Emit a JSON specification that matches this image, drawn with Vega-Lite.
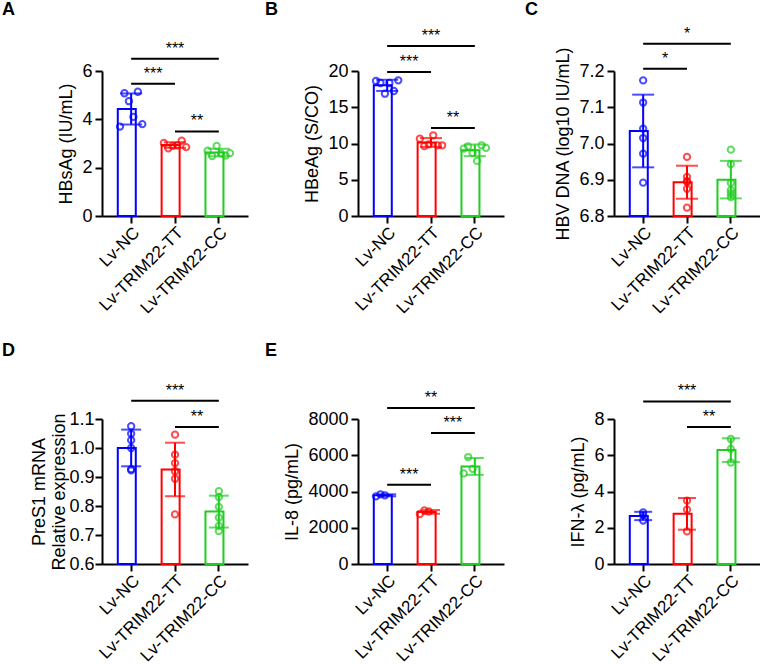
{
"$schema":"https://vega.github.io/schema/vega-lite/v6.json",
"padding":{"left":2,"top":0,"right":0,"bottom":0},
"datasets":{
"pts":[
{"panel":"A","group":"Lv-NC","rep":1,"value":3.70},{"panel":"A","group":"Lv-NC","rep":2,"value":5.08},{"panel":"A","group":"Lv-NC","rep":3,"value":4.75},{"panel":"A","group":"Lv-NC","rep":4,"value":4.10},{"panel":"A","group":"Lv-NC","rep":5,"value":5.14},{"panel":"A","group":"Lv-NC","rep":6,"value":3.80},
{"panel":"A","group":"Lv-TRIM22-TT","rep":1,"value":3.02},{"panel":"A","group":"Lv-TRIM22-TT","rep":2,"value":2.80},{"panel":"A","group":"Lv-TRIM22-TT","rep":3,"value":2.90},{"panel":"A","group":"Lv-TRIM22-TT","rep":4,"value":2.92},{"panel":"A","group":"Lv-TRIM22-TT","rep":5,"value":3.12},{"panel":"A","group":"Lv-TRIM22-TT","rep":6,"value":2.85},
{"panel":"A","group":"Lv-TRIM22-CC","rep":1,"value":2.70},{"panel":"A","group":"Lv-TRIM22-CC","rep":2,"value":2.48},{"panel":"A","group":"Lv-TRIM22-CC","rep":3,"value":2.90},{"panel":"A","group":"Lv-TRIM22-CC","rep":4,"value":2.58},{"panel":"A","group":"Lv-TRIM22-CC","rep":5,"value":2.50},{"panel":"A","group":"Lv-TRIM22-CC","rep":6,"value":2.60},
{"panel":"B","group":"Lv-NC","rep":1,"value":18.62},{"panel":"B","group":"Lv-NC","rep":2,"value":18.34},{"panel":"B","group":"Lv-NC","rep":3,"value":16.87},{"panel":"B","group":"Lv-NC","rep":4,"value":18.34},{"panel":"B","group":"Lv-NC","rep":5,"value":17.24},{"panel":"B","group":"Lv-NC","rep":6,"value":18.71},
{"panel":"B","group":"Lv-TRIM22-TT","rep":1,"value":10.66},{"panel":"B","group":"Lv-TRIM22-TT","rep":2,"value":9.66},{"panel":"B","group":"Lv-TRIM22-TT","rep":3,"value":9.89},{"panel":"B","group":"Lv-TRIM22-TT","rep":4,"value":11.13},{"panel":"B","group":"Lv-TRIM22-TT","rep":5,"value":9.75},{"panel":"B","group":"Lv-TRIM22-TT","rep":6,"value":9.75},
{"panel":"B","group":"Lv-TRIM22-CC","rep":1,"value":9.3},{"panel":"B","group":"Lv-TRIM22-CC","rep":2,"value":9.6},{"panel":"B","group":"Lv-TRIM22-CC","rep":3,"value":8.7},{"panel":"B","group":"Lv-TRIM22-CC","rep":4,"value":7.6},{"panel":"B","group":"Lv-TRIM22-CC","rep":5,"value":9.75},{"panel":"B","group":"Lv-TRIM22-CC","rep":6,"value":9.4},
{"panel":"C","group":"Lv-NC","rep":1,"value":7.174},{"panel":"C","group":"Lv-NC","rep":2,"value":7.113},{"panel":"C","group":"Lv-NC","rep":3,"value":7.041},{"panel":"C","group":"Lv-NC","rep":4,"value":7.015},{"panel":"C","group":"Lv-NC","rep":5,"value":6.972},{"panel":"C","group":"Lv-NC","rep":6,"value":6.892},
{"panel":"C","group":"Lv-TRIM22-TT","rep":1,"value":6.963},{"panel":"C","group":"Lv-TRIM22-TT","rep":2,"value":6.894},{"panel":"C","group":"Lv-TRIM22-TT","rep":3,"value":6.908},{"panel":"C","group":"Lv-TRIM22-TT","rep":4,"value":6.896},{"panel":"C","group":"Lv-TRIM22-TT","rep":5,"value":6.875},{"panel":"C","group":"Lv-TRIM22-TT","rep":6,"value":6.823},
{"panel":"C","group":"Lv-TRIM22-CC","rep":1,"value":6.983},{"panel":"C","group":"Lv-TRIM22-CC","rep":2,"value":6.943},{"panel":"C","group":"Lv-TRIM22-CC","rep":3,"value":6.891},{"panel":"C","group":"Lv-TRIM22-CC","rep":4,"value":6.852},{"panel":"C","group":"Lv-TRIM22-CC","rep":5,"value":6.871},{"panel":"C","group":"Lv-TRIM22-CC","rep":6,"value":6.862},
{"panel":"D","group":"Lv-NC","rep":1,"value":1.075},{"panel":"D","group":"Lv-NC","rep":2,"value":1.049},{"panel":"D","group":"Lv-NC","rep":3,"value":1.027},{"panel":"D","group":"Lv-NC","rep":4,"value":1.0},{"panel":"D","group":"Lv-NC","rep":5,"value":0.923},{"panel":"D","group":"Lv-NC","rep":6,"value":0.927},
{"panel":"D","group":"Lv-TRIM22-TT","rep":1,"value":1.046},{"panel":"D","group":"Lv-TRIM22-TT","rep":2,"value":0.977},{"panel":"D","group":"Lv-TRIM22-TT","rep":3,"value":0.948},{"panel":"D","group":"Lv-TRIM22-TT","rep":4,"value":0.920},{"panel":"D","group":"Lv-TRIM22-TT","rep":5,"value":0.894},{"panel":"D","group":"Lv-TRIM22-TT","rep":6,"value":0.771},
{"panel":"D","group":"Lv-TRIM22-CC","rep":1,"value":0.851},{"panel":"D","group":"Lv-TRIM22-CC","rep":2,"value":0.831},{"panel":"D","group":"Lv-TRIM22-CC","rep":3,"value":0.797},{"panel":"D","group":"Lv-TRIM22-CC","rep":4,"value":0.760},{"panel":"D","group":"Lv-TRIM22-CC","rep":5,"value":0.714},{"panel":"D","group":"Lv-TRIM22-CC","rep":6,"value":0.731},
{"panel":"E","group":"Lv-NC","rep":1,"value":3734},{"panel":"E","group":"Lv-NC","rep":2,"value":3845},{"panel":"E","group":"Lv-NC","rep":3,"value":3790},
{"panel":"E","group":"Lv-TRIM22-TT","rep":1,"value":2760},{"panel":"E","group":"Lv-TRIM22-TT","rep":2,"value":2960},{"panel":"E","group":"Lv-TRIM22-TT","rep":3,"value":2900},
{"panel":"E","group":"Lv-TRIM22-CC","rep":1,"value":5000},{"panel":"E","group":"Lv-TRIM22-CC","rep":2,"value":5900},{"panel":"E","group":"Lv-TRIM22-CC","rep":3,"value":5250},
{"panel":"F","group":"Lv-NC","rep":1,"value":2.85},{"panel":"F","group":"Lv-NC","rep":2,"value":2.70},{"panel":"F","group":"Lv-NC","rep":3,"value":2.40},
{"panel":"F","group":"Lv-TRIM22-TT","rep":1,"value":3.50},{"panel":"F","group":"Lv-TRIM22-TT","rep":2,"value":3.00},{"panel":"F","group":"Lv-TRIM22-TT","rep":3,"value":1.80},
{"panel":"F","group":"Lv-TRIM22-CC","rep":1,"value":6.90},{"panel":"F","group":"Lv-TRIM22-CC","rep":2,"value":6.35},{"panel":"F","group":"Lv-TRIM22-CC","rep":3,"value":5.60}
],
"ann":[
{"panel":"A","from":"Lv-NC","to":"Lv-TRIM22-TT","y":5.47,"label":"***"},
{"panel":"A","from":"Lv-NC","to":"Lv-TRIM22-CC","y":6.51,"label":"***"},
{"panel":"A","from":"Lv-TRIM22-TT","to":"Lv-TRIM22-CC","y":3.50,"label":"**"},
{"panel":"B","from":"Lv-NC","to":"Lv-TRIM22-TT","y":19.86,"label":"***"},
{"panel":"B","from":"Lv-NC","to":"Lv-TRIM22-CC","y":23.45,"label":"***"},
{"panel":"B","from":"Lv-TRIM22-TT","to":"Lv-TRIM22-CC","y":12.15,"label":"**"},
{"panel":"C","from":"Lv-NC","to":"Lv-TRIM22-TT","y":7.206,"label":"*"},
{"panel":"C","from":"Lv-NC","to":"Lv-TRIM22-CC","y":7.275,"label":"*"},
{"panel":"D","from":"Lv-NC","to":"Lv-TRIM22-CC","y":1.163,"label":"***"},
{"panel":"D","from":"Lv-TRIM22-TT","to":"Lv-TRIM22-CC","y":1.072,"label":"**"},
{"panel":"E","from":"Lv-NC","to":"Lv-TRIM22-TT","y":4377,"label":"***"},
{"panel":"E","from":"Lv-TRIM22-TT","to":"Lv-TRIM22-CC","y":7228,"label":"***"},
{"panel":"E","from":"Lv-NC","to":"Lv-TRIM22-CC","y":8607,"label":"**"},
{"panel":"F","from":"Lv-NC","to":"Lv-TRIM22-CC","y":8.97,"label":"***"},
{"panel":"F","from":"Lv-TRIM22-TT","to":"Lv-TRIM22-CC","y":7.56,"label":"**"}
]
},
"columns":3,
"bounds":"flush",
"spacing":{"row":203,"column":110},
"concat":[
{"width":146,"height":145,"title":{"text":"A","dx":-100,"offset":22},
"layer":[
{"data":{"name":"pts"},"transform":[{"filter":"datum.panel=='A'"}],"mark":{"type":"bar","fill":"white","strokeWidth":2},
"encoding":{"x":{"field":"group","type":"nominal","title":null,"scale":{"domain":["Lv-NC","Lv-TRIM22-TT","Lv-TRIM22-CC"],"paddingInner":0.39,"paddingOuter":0.36}},
"y":{"aggregate":"mean","field":"value","type":"quantitative","title":"HBsAg (IU/mL)","scale":{"domain":[0,6],"nice":false},"axis":{"values":[0,2,4,6]}},
"stroke":{"field":"group","type":"nominal","scale":{"domain":["Lv-NC","Lv-TRIM22-TT","Lv-TRIM22-CC"],"range":["#0000ff","#ff0000","#1fcc1f"]},"legend":null}}},
{"data":{"name":"pts"},"transform":[{"filter":"datum.panel=='A'"}],"mark":{"type":"errorbar","extent":"stdev","thickness":2,"ticks":{"size":22,"thickness":2}},
"encoding":{"x":{"field":"group","type":"nominal","title":null,"scale":{"domain":["Lv-NC","Lv-TRIM22-TT","Lv-TRIM22-CC"]}},
"y":{"field":"value","type":"quantitative","title":"HBsAg (IU/mL)","scale":{"domain":[0,6],"nice":false},"axis":{"values":[0,2,4,6]}},
"color":{"field":"group","type":"nominal","scale":{"domain":["Lv-NC","Lv-TRIM22-TT","Lv-TRIM22-CC"],"range":["#0000ff","#ff0000","#1fcc1f"]},"legend":null}}},
{"data":{"name":"pts"},"transform":[{"filter":"datum.panel=='A'"}],"mark":{"type":"point","filled":false,"size":40,"strokeWidth":2},
"encoding":{"x":{"field":"group","type":"nominal","title":null,"scale":{"domain":["Lv-NC","Lv-TRIM22-TT","Lv-TRIM22-CC"]}},"xOffset":{"field":"rep","type":"nominal"},
"y":{"field":"value","type":"quantitative","title":"HBsAg (IU/mL)","scale":{"domain":[0,6],"nice":false},"axis":{"values":[0,2,4,6]}},
"stroke":{"field":"group","type":"nominal","scale":{"domain":["Lv-NC","Lv-TRIM22-TT","Lv-TRIM22-CC"],"range":["#0000ff","#ff0000","#1fcc1f"]},"legend":null}}},
{"data":{"name":"ann"},"transform":[{"filter":"datum.panel=='A'"}],"mark":{"type":"rule","strokeWidth":2,"color":"black"},
"encoding":{"x":{"field":"from","type":"nominal","title":null,"scale":{"domain":["Lv-NC","Lv-TRIM22-TT","Lv-TRIM22-CC"]}},"x2":{"field":"to"},
"y":{"field":"y","type":"quantitative","title":"HBsAg (IU/mL)","scale":{"domain":[0,6],"nice":false},"axis":{"values":[0,2,4,6]}}}},
{"data":{"name":"ann"},"transform":[{"filter":"datum.panel=='A' && datum.from=='Lv-NC' && datum.to=='Lv-TRIM22-CC'"}],"mark":{"type":"text","fontSize":16,"dy":-5,"baseline":"alphabetic","color":"black"},
"encoding":{"x":{"datum":"Lv-TRIM22-TT","type":"nominal","title":null,"scale":{"domain":["Lv-NC","Lv-TRIM22-TT","Lv-TRIM22-CC"]}},
"y":{"field":"y","type":"quantitative","title":"HBsAg (IU/mL)","scale":{"domain":[0,6],"nice":false},"axis":{"values":[0,2,4,6]}},"text":{"field":"label"}}},
{"data":{"name":"ann"},"transform":[{"filter":"datum.panel=='A' && !(datum.from=='Lv-NC' && datum.to=='Lv-TRIM22-CC')"}],"mark":{"type":"text","fontSize":16,"dy":-5,"baseline":"alphabetic","color":"black"},
"encoding":{"x":{"field":"from","type":"nominal","title":null,"bandPosition":1.32,"scale":{"domain":["Lv-NC","Lv-TRIM22-TT","Lv-TRIM22-CC"]}},
"y":{"field":"y","type":"quantitative","title":"HBsAg (IU/mL)","scale":{"domain":[0,6],"nice":false},"axis":{"values":[0,2,4,6]}},"text":{"field":"label"}}}
]},
{"width":146,"height":145,"title":{"text":"B","dx":-93,"offset":9},
"layer":[
{"data":{"name":"pts"},"transform":[{"filter":"datum.panel=='B'"}],"mark":{"type":"bar","fill":"white","strokeWidth":2},
"encoding":{"x":{"field":"group","type":"nominal","title":null,"scale":{"domain":["Lv-NC","Lv-TRIM22-TT","Lv-TRIM22-CC"],"paddingInner":0.39,"paddingOuter":0.36}},
"y":{"aggregate":"mean","field":"value","type":"quantitative","title":"HBeAg (S/CO)","scale":{"domain":[0,20],"nice":false},"axis":{"values":[0,5,10,15,20]}},
"stroke":{"field":"group","type":"nominal","scale":{"domain":["Lv-NC","Lv-TRIM22-TT","Lv-TRIM22-CC"],"range":["#0000ff","#ff0000","#1fcc1f"]},"legend":null}}},
{"data":{"name":"pts"},"transform":[{"filter":"datum.panel=='B'"}],"mark":{"type":"errorbar","extent":"stdev","thickness":2,"ticks":{"size":22,"thickness":2}},
"encoding":{"x":{"field":"group","type":"nominal","title":null,"scale":{"domain":["Lv-NC","Lv-TRIM22-TT","Lv-TRIM22-CC"]}},
"y":{"field":"value","type":"quantitative","title":"HBeAg (S/CO)","scale":{"domain":[0,20],"nice":false},"axis":{"values":[0,5,10,15,20]}},
"color":{"field":"group","type":"nominal","scale":{"domain":["Lv-NC","Lv-TRIM22-TT","Lv-TRIM22-CC"],"range":["#0000ff","#ff0000","#1fcc1f"]},"legend":null}}},
{"data":{"name":"pts"},"transform":[{"filter":"datum.panel=='B'"}],"mark":{"type":"point","filled":false,"size":40,"strokeWidth":2},
"encoding":{"x":{"field":"group","type":"nominal","title":null,"scale":{"domain":["Lv-NC","Lv-TRIM22-TT","Lv-TRIM22-CC"]}},"xOffset":{"field":"rep","type":"nominal"},
"y":{"field":"value","type":"quantitative","title":"HBeAg (S/CO)","scale":{"domain":[0,20],"nice":false},"axis":{"values":[0,5,10,15,20]}},
"stroke":{"field":"group","type":"nominal","scale":{"domain":["Lv-NC","Lv-TRIM22-TT","Lv-TRIM22-CC"],"range":["#0000ff","#ff0000","#1fcc1f"]},"legend":null}}},
{"data":{"name":"ann"},"transform":[{"filter":"datum.panel=='B'"}],"mark":{"type":"rule","strokeWidth":2,"color":"black"},
"encoding":{"x":{"field":"from","type":"nominal","title":null,"scale":{"domain":["Lv-NC","Lv-TRIM22-TT","Lv-TRIM22-CC"]}},"x2":{"field":"to"},
"y":{"field":"y","type":"quantitative","title":"HBeAg (S/CO)","scale":{"domain":[0,20],"nice":false},"axis":{"values":[0,5,10,15,20]}}}},
{"data":{"name":"ann"},"transform":[{"filter":"datum.panel=='B' && datum.from=='Lv-NC' && datum.to=='Lv-TRIM22-CC'"}],"mark":{"type":"text","fontSize":16,"dy":-5,"baseline":"alphabetic","color":"black"},
"encoding":{"x":{"datum":"Lv-TRIM22-TT","type":"nominal","title":null,"scale":{"domain":["Lv-NC","Lv-TRIM22-TT","Lv-TRIM22-CC"]}},
"y":{"field":"y","type":"quantitative","title":"HBeAg (S/CO)","scale":{"domain":[0,20],"nice":false},"axis":{"values":[0,5,10,15,20]}},"text":{"field":"label"}}},
{"data":{"name":"ann"},"transform":[{"filter":"datum.panel=='B' && !(datum.from=='Lv-NC' && datum.to=='Lv-TRIM22-CC')"}],"mark":{"type":"text","fontSize":16,"dy":-5,"baseline":"alphabetic","color":"black"},
"encoding":{"x":{"field":"from","type":"nominal","title":null,"bandPosition":1.32,"scale":{"domain":["Lv-NC","Lv-TRIM22-TT","Lv-TRIM22-CC"]}},
"y":{"field":"y","type":"quantitative","title":"HBeAg (S/CO)","scale":{"domain":[0,20],"nice":false},"axis":{"values":[0,5,10,15,20]}},"text":{"field":"label"}}}
]},
{"width":146,"height":145,"title":{"text":"C","dx":-89,"offset":7},
"layer":[
{"data":{"name":"pts"},"transform":[{"filter":"datum.panel=='C'"}],"mark":{"type":"bar","fill":"white","strokeWidth":2},
"encoding":{"x":{"field":"group","type":"nominal","title":null,"scale":{"domain":["Lv-NC","Lv-TRIM22-TT","Lv-TRIM22-CC"],"paddingInner":0.39,"paddingOuter":0.36}},
"y":{"aggregate":"mean","field":"value","type":"quantitative","title":"HBV DNA (log10 IU/mL)","scale":{"domain":[6.8,7.2],"nice":false,"zero":false},"axis":{"values":[6.8,6.9,7.0,7.1,7.2],"format":".1f"}},
"stroke":{"field":"group","type":"nominal","scale":{"domain":["Lv-NC","Lv-TRIM22-TT","Lv-TRIM22-CC"],"range":["#0000ff","#ff0000","#1fcc1f"]},"legend":null}}},
{"data":{"name":"pts"},"transform":[{"filter":"datum.panel=='C'"}],"mark":{"type":"errorbar","extent":"stdev","thickness":2,"ticks":{"size":22,"thickness":2}},
"encoding":{"x":{"field":"group","type":"nominal","title":null,"scale":{"domain":["Lv-NC","Lv-TRIM22-TT","Lv-TRIM22-CC"]}},
"y":{"field":"value","type":"quantitative","title":"HBV DNA (log10 IU/mL)","scale":{"domain":[6.8,7.2],"nice":false,"zero":false},"axis":{"values":[6.8,6.9,7.0,7.1,7.2],"format":".1f"}},
"color":{"field":"group","type":"nominal","scale":{"domain":["Lv-NC","Lv-TRIM22-TT","Lv-TRIM22-CC"],"range":["#0000ff","#ff0000","#1fcc1f"]},"legend":null}}},
{"data":{"name":"pts"},"transform":[{"filter":"datum.panel=='C'"}],"mark":{"type":"point","filled":false,"size":40,"strokeWidth":2},
"encoding":{"x":{"field":"group","type":"nominal","title":null,"scale":{"domain":["Lv-NC","Lv-TRIM22-TT","Lv-TRIM22-CC"]}},
"y":{"field":"value","type":"quantitative","title":"HBV DNA (log10 IU/mL)","scale":{"domain":[6.8,7.2],"nice":false,"zero":false},"axis":{"values":[6.8,6.9,7.0,7.1,7.2],"format":".1f"}},
"stroke":{"field":"group","type":"nominal","scale":{"domain":["Lv-NC","Lv-TRIM22-TT","Lv-TRIM22-CC"],"range":["#0000ff","#ff0000","#1fcc1f"]},"legend":null}}},
{"data":{"name":"ann"},"transform":[{"filter":"datum.panel=='C'"}],"mark":{"type":"rule","strokeWidth":2,"color":"black"},
"encoding":{"x":{"field":"from","type":"nominal","title":null,"scale":{"domain":["Lv-NC","Lv-TRIM22-TT","Lv-TRIM22-CC"]}},"x2":{"field":"to"},
"y":{"field":"y","type":"quantitative","title":"HBV DNA (log10 IU/mL)","scale":{"domain":[6.8,7.2],"nice":false,"zero":false},"axis":{"values":[6.8,6.9,7.0,7.1,7.2],"format":".1f"}}}},
{"data":{"name":"ann"},"transform":[{"filter":"datum.panel=='C' && datum.from=='Lv-NC' && datum.to=='Lv-TRIM22-CC'"}],"mark":{"type":"text","fontSize":16,"dy":-5,"baseline":"alphabetic","color":"black"},
"encoding":{"x":{"datum":"Lv-TRIM22-TT","type":"nominal","title":null,"scale":{"domain":["Lv-NC","Lv-TRIM22-TT","Lv-TRIM22-CC"]}},
"y":{"field":"y","type":"quantitative","title":"HBV DNA (log10 IU/mL)","scale":{"domain":[6.8,7.2],"nice":false,"zero":false},"axis":{"values":[6.8,6.9,7.0,7.1,7.2],"format":".1f"}},"text":{"field":"label"}}},
{"data":{"name":"ann"},"transform":[{"filter":"datum.panel=='C' && !(datum.from=='Lv-NC' && datum.to=='Lv-TRIM22-CC')"}],"mark":{"type":"text","fontSize":16,"dy":-5,"baseline":"alphabetic","color":"black"},
"encoding":{"x":{"field":"from","type":"nominal","title":null,"bandPosition":1.32,"scale":{"domain":["Lv-NC","Lv-TRIM22-TT","Lv-TRIM22-CC"]}},
"y":{"field":"y","type":"quantitative","title":"HBV DNA (log10 IU/mL)","scale":{"domain":[6.8,7.2],"nice":false,"zero":false},"axis":{"values":[6.8,6.9,7.0,7.1,7.2],"format":".1f"}},"text":{"field":"label"}}}
]},
{"width":146,"height":145,"title":{"text":"D","dx":-100,"offset":23},
"layer":[
{"data":{"name":"pts"},"transform":[{"filter":"datum.panel=='D'"}],"mark":{"type":"bar","fill":"white","strokeWidth":2},
"encoding":{"x":{"field":"group","type":"nominal","title":null,"scale":{"domain":["Lv-NC","Lv-TRIM22-TT","Lv-TRIM22-CC"],"paddingInner":0.39,"paddingOuter":0.36}},
"y":{"aggregate":"mean","field":"value","type":"quantitative","title":["PreS1 mRNA","Relative expression"],"scale":{"domain":[0.6,1.1],"nice":false,"zero":false},"axis":{"values":[0.6,0.7,0.8,0.9,1.0,1.1],"format":".1f","titleLineHeight":20,"titlePadding":0,"labelPadding":1}},
"stroke":{"field":"group","type":"nominal","scale":{"domain":["Lv-NC","Lv-TRIM22-TT","Lv-TRIM22-CC"],"range":["#0000ff","#ff0000","#1fcc1f"]},"legend":null}}},
{"data":{"name":"pts"},"transform":[{"filter":"datum.panel=='D'"}],"mark":{"type":"errorbar","extent":"stdev","thickness":2,"ticks":{"size":20,"thickness":2}},
"encoding":{"x":{"field":"group","type":"nominal","title":null,"scale":{"domain":["Lv-NC","Lv-TRIM22-TT","Lv-TRIM22-CC"]}},
"y":{"field":"value","type":"quantitative","title":["PreS1 mRNA","Relative expression"],"scale":{"domain":[0.6,1.1],"nice":false,"zero":false},"axis":{"values":[0.6,0.7,0.8,0.9,1.0,1.1],"format":".1f","titleLineHeight":20,"titlePadding":0,"labelPadding":1}},
"color":{"field":"group","type":"nominal","scale":{"domain":["Lv-NC","Lv-TRIM22-TT","Lv-TRIM22-CC"],"range":["#0000ff","#ff0000","#1fcc1f"]},"legend":null}}},
{"data":{"name":"pts"},"transform":[{"filter":"datum.panel=='D'"}],"mark":{"type":"point","filled":false,"size":40,"strokeWidth":2},
"encoding":{"x":{"field":"group","type":"nominal","title":null,"scale":{"domain":["Lv-NC","Lv-TRIM22-TT","Lv-TRIM22-CC"]}},
"y":{"field":"value","type":"quantitative","title":["PreS1 mRNA","Relative expression"],"scale":{"domain":[0.6,1.1],"nice":false,"zero":false},"axis":{"values":[0.6,0.7,0.8,0.9,1.0,1.1],"format":".1f","titleLineHeight":20,"titlePadding":0,"labelPadding":1}},
"stroke":{"field":"group","type":"nominal","scale":{"domain":["Lv-NC","Lv-TRIM22-TT","Lv-TRIM22-CC"],"range":["#0000ff","#ff0000","#1fcc1f"]},"legend":null}}},
{"data":{"name":"ann"},"transform":[{"filter":"datum.panel=='D'"}],"mark":{"type":"rule","strokeWidth":2,"color":"black"},
"encoding":{"x":{"field":"from","type":"nominal","title":null,"scale":{"domain":["Lv-NC","Lv-TRIM22-TT","Lv-TRIM22-CC"]}},"x2":{"field":"to"},
"y":{"field":"y","type":"quantitative","title":["PreS1 mRNA","Relative expression"],"scale":{"domain":[0.6,1.1],"nice":false,"zero":false},"axis":{"values":[0.6,0.7,0.8,0.9,1.0,1.1],"format":".1f","titleLineHeight":20,"titlePadding":0,"labelPadding":1}}}},
{"data":{"name":"ann"},"transform":[{"filter":"datum.panel=='D' && datum.from=='Lv-NC' && datum.to=='Lv-TRIM22-CC'"}],"mark":{"type":"text","fontSize":16,"dy":-5,"baseline":"alphabetic","color":"black"},
"encoding":{"x":{"datum":"Lv-TRIM22-TT","type":"nominal","title":null,"scale":{"domain":["Lv-NC","Lv-TRIM22-TT","Lv-TRIM22-CC"]}},
"y":{"field":"y","type":"quantitative","title":["PreS1 mRNA","Relative expression"],"scale":{"domain":[0.6,1.1],"nice":false,"zero":false},"axis":{"values":[0.6,0.7,0.8,0.9,1.0,1.1],"format":".1f","titleLineHeight":20,"titlePadding":0,"labelPadding":1}},"text":{"field":"label"}}},
{"data":{"name":"ann"},"transform":[{"filter":"datum.panel=='D' && !(datum.from=='Lv-NC' && datum.to=='Lv-TRIM22-CC')"}],"mark":{"type":"text","fontSize":16,"dy":-5,"baseline":"alphabetic","color":"black"},
"encoding":{"x":{"field":"from","type":"nominal","title":null,"bandPosition":1.32,"scale":{"domain":["Lv-NC","Lv-TRIM22-TT","Lv-TRIM22-CC"]}},
"y":{"field":"y","type":"quantitative","title":["PreS1 mRNA","Relative expression"],"scale":{"domain":[0.6,1.1],"nice":false,"zero":false},"axis":{"values":[0.6,0.7,0.8,0.9,1.0,1.1],"format":".1f","titleLineHeight":20,"titlePadding":0,"labelPadding":1}},"text":{"field":"label"}}}
]},
{"width":146,"height":145,"title":{"text":"E","dx":-93,"offset":30},
"layer":[
{"data":{"name":"pts"},"transform":[{"filter":"datum.panel=='E'"}],"mark":{"type":"bar","fill":"white","strokeWidth":2},
"encoding":{"x":{"field":"group","type":"nominal","title":null,"scale":{"domain":["Lv-NC","Lv-TRIM22-TT","Lv-TRIM22-CC"],"paddingInner":0.39,"paddingOuter":0.36}},
"y":{"aggregate":"mean","field":"value","type":"quantitative","title":"IL-8 (pg/mL)","scale":{"domain":[0,8000],"nice":false},"axis":{"values":[0,2000,4000,6000,8000],"format":"d"}},
"stroke":{"field":"group","type":"nominal","scale":{"domain":["Lv-NC","Lv-TRIM22-TT","Lv-TRIM22-CC"],"range":["#0000ff","#ff0000","#1fcc1f"]},"legend":null}}},
{"data":{"name":"pts"},"transform":[{"filter":"datum.panel=='E'"}],"mark":{"type":"errorbar","extent":"stdev","thickness":2,"ticks":{"size":18,"thickness":2}},
"encoding":{"x":{"field":"group","type":"nominal","title":null,"scale":{"domain":["Lv-NC","Lv-TRIM22-TT","Lv-TRIM22-CC"]}},
"y":{"field":"value","type":"quantitative","title":"IL-8 (pg/mL)","scale":{"domain":[0,8000],"nice":false},"axis":{"values":[0,2000,4000,6000,8000],"format":"d"}},
"color":{"field":"group","type":"nominal","scale":{"domain":["Lv-NC","Lv-TRIM22-TT","Lv-TRIM22-CC"],"range":["#0000ff","#ff0000","#1fcc1f"]},"legend":null}}},
{"data":{"name":"pts"},"transform":[{"filter":"datum.panel=='E'"}],"mark":{"type":"point","filled":false,"size":40,"strokeWidth":2},
"encoding":{"x":{"field":"group","type":"nominal","title":null,"scale":{"domain":["Lv-NC","Lv-TRIM22-TT","Lv-TRIM22-CC"]}},"xOffset":{"field":"rep","type":"nominal"},
"y":{"field":"value","type":"quantitative","title":"IL-8 (pg/mL)","scale":{"domain":[0,8000],"nice":false},"axis":{"values":[0,2000,4000,6000,8000],"format":"d"}},
"stroke":{"field":"group","type":"nominal","scale":{"domain":["Lv-NC","Lv-TRIM22-TT","Lv-TRIM22-CC"],"range":["#0000ff","#ff0000","#1fcc1f"]},"legend":null}}},
{"data":{"name":"ann"},"transform":[{"filter":"datum.panel=='E'"}],"mark":{"type":"rule","strokeWidth":2,"color":"black"},
"encoding":{"x":{"field":"from","type":"nominal","title":null,"scale":{"domain":["Lv-NC","Lv-TRIM22-TT","Lv-TRIM22-CC"]}},"x2":{"field":"to"},
"y":{"field":"y","type":"quantitative","title":"IL-8 (pg/mL)","scale":{"domain":[0,8000],"nice":false},"axis":{"values":[0,2000,4000,6000,8000],"format":"d"}}}},
{"data":{"name":"ann"},"transform":[{"filter":"datum.panel=='E' && datum.from=='Lv-NC' && datum.to=='Lv-TRIM22-CC'"}],"mark":{"type":"text","fontSize":16,"dy":-5,"baseline":"alphabetic","color":"black"},
"encoding":{"x":{"datum":"Lv-TRIM22-TT","type":"nominal","title":null,"scale":{"domain":["Lv-NC","Lv-TRIM22-TT","Lv-TRIM22-CC"]}},
"y":{"field":"y","type":"quantitative","title":"IL-8 (pg/mL)","scale":{"domain":[0,8000],"nice":false},"axis":{"values":[0,2000,4000,6000,8000],"format":"d"}},"text":{"field":"label"}}},
{"data":{"name":"ann"},"transform":[{"filter":"datum.panel=='E' && !(datum.from=='Lv-NC' && datum.to=='Lv-TRIM22-CC')"}],"mark":{"type":"text","fontSize":16,"dy":-5,"baseline":"alphabetic","color":"black"},
"encoding":{"x":{"field":"from","type":"nominal","title":null,"bandPosition":1.32,"scale":{"domain":["Lv-NC","Lv-TRIM22-TT","Lv-TRIM22-CC"]}},
"y":{"field":"y","type":"quantitative","title":"IL-8 (pg/mL)","scale":{"domain":[0,8000],"nice":false},"axis":{"values":[0,2000,4000,6000,8000],"format":"d"}},"text":{"field":"label"}}}
]},
{"width":146,"height":145,
"layer":[
{"data":{"name":"pts"},"transform":[{"filter":"datum.panel=='F'"}],"mark":{"type":"bar","fill":"white","strokeWidth":2},
"encoding":{"x":{"field":"group","type":"nominal","title":null,"scale":{"domain":["Lv-NC","Lv-TRIM22-TT","Lv-TRIM22-CC"],"paddingInner":0.39,"paddingOuter":0.36}},
"y":{"aggregate":"mean","field":"value","type":"quantitative","title":"IFN-λ (pg/mL)","scale":{"domain":[0,8],"nice":false},"axis":{"values":[0,2,4,6,8]}},
"stroke":{"field":"group","type":"nominal","scale":{"domain":["Lv-NC","Lv-TRIM22-TT","Lv-TRIM22-CC"],"range":["#0000ff","#ff0000","#1fcc1f"]},"legend":null}}},
{"data":{"name":"pts"},"transform":[{"filter":"datum.panel=='F'"}],"mark":{"type":"errorbar","extent":"stdev","thickness":2,"ticks":{"size":18,"thickness":2}},
"encoding":{"x":{"field":"group","type":"nominal","title":null,"scale":{"domain":["Lv-NC","Lv-TRIM22-TT","Lv-TRIM22-CC"]}},
"y":{"field":"value","type":"quantitative","title":"IFN-λ (pg/mL)","scale":{"domain":[0,8],"nice":false},"axis":{"values":[0,2,4,6,8]}},
"color":{"field":"group","type":"nominal","scale":{"domain":["Lv-NC","Lv-TRIM22-TT","Lv-TRIM22-CC"],"range":["#0000ff","#ff0000","#1fcc1f"]},"legend":null}}},
{"data":{"name":"pts"},"transform":[{"filter":"datum.panel=='F'"}],"mark":{"type":"point","filled":false,"size":40,"strokeWidth":2},
"encoding":{"x":{"field":"group","type":"nominal","title":null,"scale":{"domain":["Lv-NC","Lv-TRIM22-TT","Lv-TRIM22-CC"]}},
"y":{"field":"value","type":"quantitative","title":"IFN-λ (pg/mL)","scale":{"domain":[0,8],"nice":false},"axis":{"values":[0,2,4,6,8]}},
"stroke":{"field":"group","type":"nominal","scale":{"domain":["Lv-NC","Lv-TRIM22-TT","Lv-TRIM22-CC"],"range":["#0000ff","#ff0000","#1fcc1f"]},"legend":null}}},
{"data":{"name":"ann"},"transform":[{"filter":"datum.panel=='F'"}],"mark":{"type":"rule","strokeWidth":2,"color":"black"},
"encoding":{"x":{"field":"from","type":"nominal","title":null,"scale":{"domain":["Lv-NC","Lv-TRIM22-TT","Lv-TRIM22-CC"]}},"x2":{"field":"to"},
"y":{"field":"y","type":"quantitative","title":"IFN-λ (pg/mL)","scale":{"domain":[0,8],"nice":false},"axis":{"values":[0,2,4,6,8]}}}},
{"data":{"name":"ann"},"transform":[{"filter":"datum.panel=='F' && datum.from=='Lv-NC' && datum.to=='Lv-TRIM22-CC'"}],"mark":{"type":"text","fontSize":16,"dy":-5,"baseline":"alphabetic","color":"black"},
"encoding":{"x":{"datum":"Lv-TRIM22-TT","type":"nominal","title":null,"scale":{"domain":["Lv-NC","Lv-TRIM22-TT","Lv-TRIM22-CC"]}},
"y":{"field":"y","type":"quantitative","title":"IFN-λ (pg/mL)","scale":{"domain":[0,8],"nice":false},"axis":{"values":[0,2,4,6,8]}},"text":{"field":"label"}}},
{"data":{"name":"ann"},"transform":[{"filter":"datum.panel=='F' && !(datum.from=='Lv-NC' && datum.to=='Lv-TRIM22-CC')"}],"mark":{"type":"text","fontSize":16,"dy":-5,"baseline":"alphabetic","color":"black"},
"encoding":{"x":{"field":"from","type":"nominal","title":null,"bandPosition":1.32,"scale":{"domain":["Lv-NC","Lv-TRIM22-TT","Lv-TRIM22-CC"]}},
"y":{"field":"y","type":"quantitative","title":"IFN-λ (pg/mL)","scale":{"domain":[0,8],"nice":false},"axis":{"values":[0,2,4,6,8]}},"text":{"field":"label"}}}
]}
],
"config":{
"font":"Liberation Sans",
"view":{"stroke":null},
"axis":{"domainColor":"black","domainWidth":2,"tickColor":"black","tickWidth":2,"tickSize":7,"labelColor":"black","titleColor":"black","labelFontSize":18,"titleFontSize":18,"titleFontWeight":"normal","grid":false,"labelFont":"Liberation Sans","titleFont":"Liberation Sans","labelOverlap":false},
"axisX":{"labelAngle":-45,"labelFontSize":17,"labelAlign":"right","labelBaseline":"top","labelOverlap":false,"labelPadding":1},
"axisY":{"labelPadding":3,"titlePadding":6},
"title":{"anchor":"start","frame":"group","fontSize":18,"fontWeight":"bold","color":"black","baseline":"alphabetic","font":"Liberation Sans"}
}
}
